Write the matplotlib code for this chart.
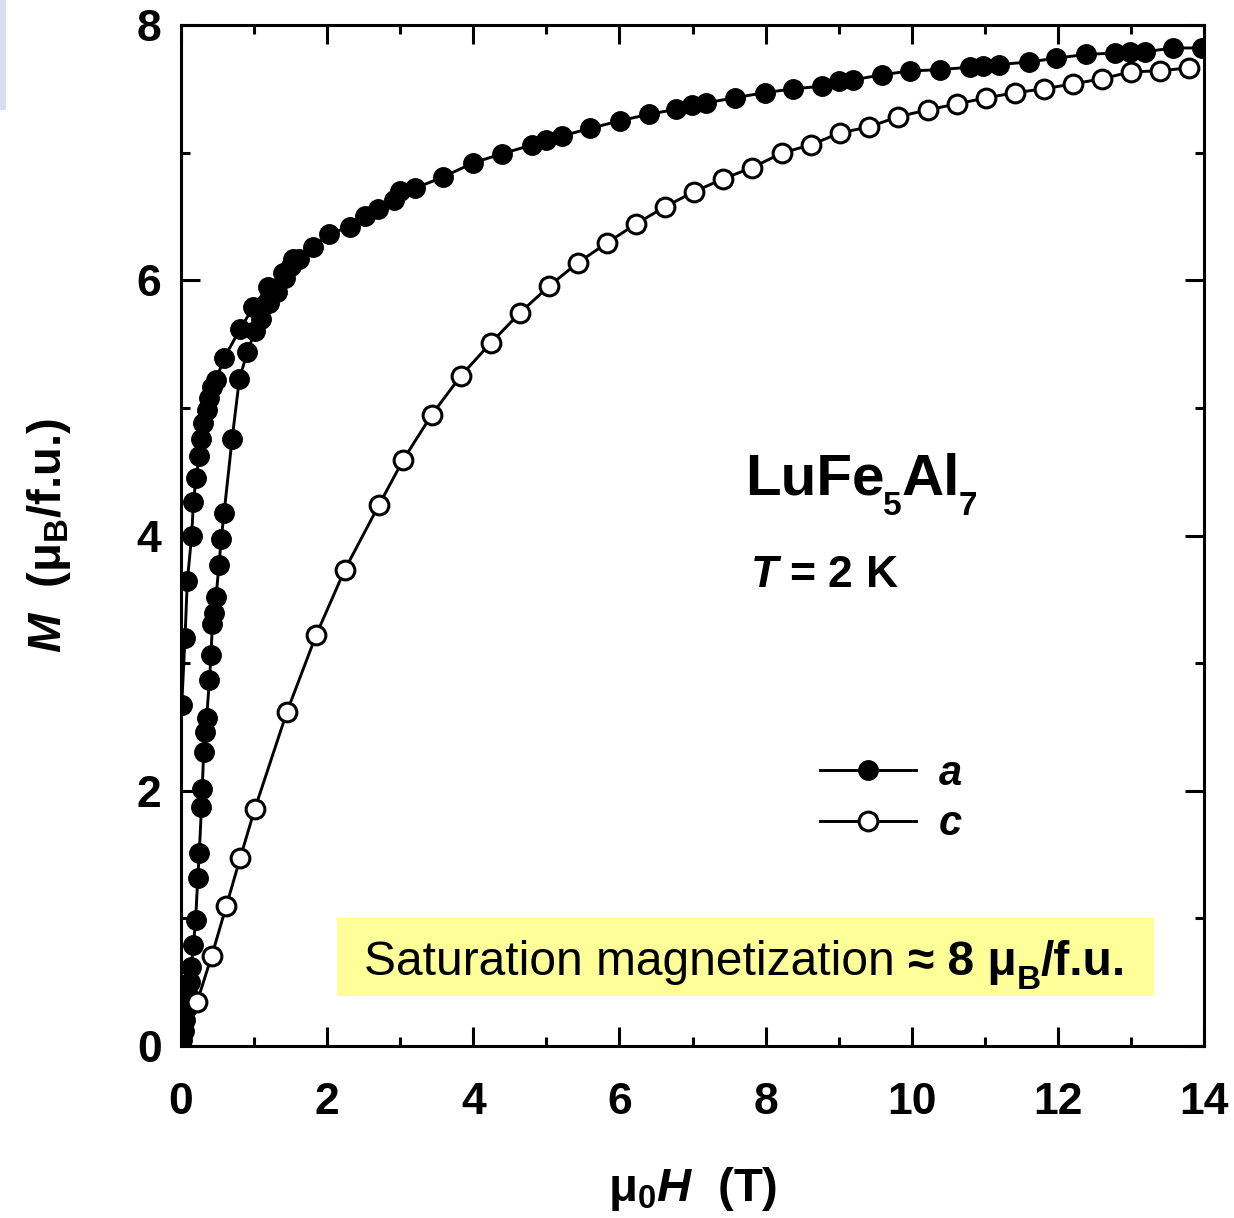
import matplotlib
matplotlib.use("Agg")
import matplotlib.pyplot as plt
from matplotlib.patches import Rectangle

# ---------------- data ----------------
# H || a : virgin (initial) magnetization curve + high-field sweep
a_up_H = [0.00, 0.02, 0.04, 0.06, 0.08, 0.10, 0.12, 0.14, 0.17, 0.20, 0.23, 0.25,
          0.28, 0.29, 0.31, 0.33, 0.35, 0.39, 0.41, 0.43, 0.45, 0.48, 0.52, 0.55,
          0.59, 0.70, 0.80, 0.91, 1.01, 1.10, 1.20, 1.31, 1.42, 1.51, 1.61, 1.81,
          2.02, 2.31, 2.52, 2.70, 2.91, 3.00, 3.20, 3.59, 4.00, 4.39, 4.80, 5.00,
          5.21, 5.60, 6.01, 6.40, 6.78, 6.99, 7.19, 7.58, 7.99, 8.38, 8.77, 9.00,
          9.20, 9.59, 9.98, 10.39, 10.80, 10.98, 11.19, 11.60, 11.98, 12.39, 12.78,
          12.99, 13.19, 13.58, 13.97]
a_up_M = [0.00, 0.05, 0.12, 0.20, 0.30, 0.40, 0.50, 0.62, 0.79, 0.99, 1.32, 1.51,
          1.87, 2.01, 2.30, 2.46, 2.57, 2.87, 3.06, 3.31, 3.39, 3.52, 3.77, 3.97,
          4.18, 4.76, 5.23, 5.44, 5.60, 5.70, 5.82, 5.91, 6.02, 6.11, 6.17, 6.26,
          6.36, 6.42, 6.50, 6.56, 6.63, 6.70, 6.72, 6.81, 6.92, 6.99, 7.06, 7.10,
          7.13, 7.19, 7.25, 7.30, 7.34, 7.37, 7.39, 7.43, 7.47, 7.50, 7.52, 7.56,
          7.57, 7.61, 7.64, 7.65, 7.67, 7.68, 7.69, 7.71, 7.74, 7.77, 7.78,
          7.79, 7.79, 7.82, 7.82]
# H || a : field-decreasing branch back to zero
a_down_H = [1.53, 1.40, 1.19, 0.99, 0.81, 0.59, 0.48, 0.43, 0.39, 0.35, 0.305,
            0.28, 0.25, 0.205, 0.17, 0.146, 0.086, 0.055, 0.01]
a_down_M = [6.17, 6.06, 5.95, 5.79, 5.62, 5.39, 5.22, 5.16, 5.08, 4.98, 4.88,
            4.76, 4.62, 4.45, 4.26, 4.00, 3.64, 3.20, 2.67]

# H || c
c_H = [0.00, 0.22, 0.42, 0.62, 0.81, 1.01, 1.45, 1.85, 2.24, 2.71, 3.04, 3.43,
       3.83, 4.24, 4.64, 5.04, 5.43, 5.83, 6.23, 6.62, 7.02, 7.42, 7.81, 8.23,
       8.62, 9.02, 9.42, 9.81, 10.22, 10.62, 11.02, 11.41, 11.81, 12.21, 12.60,
       13.00, 13.40, 13.80]
c_M = [0.00, 0.345, 0.705, 1.097, 1.473, 1.857, 2.618, 3.221, 3.730, 4.240,
       4.592, 4.945, 5.251, 5.509, 5.745, 5.956, 6.136, 6.293, 6.442, 6.575,
       6.693, 6.795, 6.881, 6.998, 7.061, 7.155, 7.202, 7.281, 7.335, 7.382,
       7.429, 7.469, 7.500, 7.539, 7.578, 7.633, 7.641, 7.665]

x_ticks = [0, 2, 4, 6, 8, 10, 12, 14]
y_ticks = [0, 2, 4, 6, 8]
series_labels = ["a", "c"]

# ---------------- style ----------------
plt.rcParams["font.family"] = ["Liberation Sans", "DejaVu Sans"]
plt.rcParams["font.weight"] = "bold"
plt.rcParams["mathtext.fontset"] = "custom"
plt.rcParams["mathtext.rm"] = "Liberation Sans:bold"
plt.rcParams["mathtext.it"] = "Liberation Sans:bold:italic"
plt.rcParams["mathtext.bf"] = "Liberation Sans:bold"

fig = plt.figure(figsize=(12.34, 12.18), dpi=100)
ax = fig.add_axes([181 / 1234, 1 - 1046 / 1218, (1204 - 181) / 1234, (1046 - 25) / 1218])

# faint lavender strip at the left edge of the figure
fig.patches.append(Rectangle((0, 1 - 110 / 1218), 6 / 1234, 110 / 1218,
                             transform=fig.transFigure, facecolor="#dcdcf0",
                             edgecolor="none"))

lw = 2.1
ax.plot(a_up_H, a_up_M, "-o", color="black", lw=lw, ms=14, mfc="black",
        mec="black", label=series_labels[0], zorder=3)
ax.plot(a_down_H, a_down_M, "-o", color="black", lw=lw, ms=14, mfc="black",
        mec="black", zorder=3)
ax.plot(c_H, c_M, "-o", color="black", lw=lw, ms=13.5, mfc="white",
        mec="black", mew=2.2, markevery=slice(1, None), zorder=4)
c_proxy, = ax.plot([], [], "-o", color="black", lw=lw, ms=13.5, mfc="white",
                   mec="black", mew=2.2, label=series_labels[1])

ax.set_xlim(0, 14)
ax.set_ylim(0, 8)
ax.set_xticks(x_ticks)
ax.set_yticks(y_ticks)
ax.set_xticks([1, 3, 5, 7, 9, 11, 13], minor=True)
ax.set_yticks([1, 3, 5, 7], minor=True)
ax.tick_params(which="both", direction="in", top=True, right=True, width=2.2,
               labelsize=32)
ax.tick_params(which="major", length=14)
ax.tick_params(which="minor", length=6.5)
ax.tick_params(axis="x", which="major", pad=26)
ax.tick_params(axis="y", which="major", pad=14)
for lab in ax.get_xticklabels() + ax.get_yticklabels():
    lab.set_fontweight("bold")
for s in ax.spines.values():
    s.set_linewidth(2.2)

ax.set_xlabel(r"$\mathrm{\mu}_{\mathrm{0}}\mathit{H}$  (T)", fontsize=34,
              fontweight="bold", labelpad=30)
ax.set_ylabel(r"$\mathit{M}$  ($\mathrm{\mu}_{\mathrm{B}}$/f.u.)", fontsize=34,
              fontweight="bold", labelpad=46)

# compound formula with large, low subscripts
t1 = ax.text(7.72, 4.32, "LuFe", fontsize=42, fontweight="bold",
             ha="left", va="baseline")
t2 = ax.annotate("5", xy=(1, 0), xycoords=t1, xytext=(-1, -11),
                 textcoords="offset points", fontsize=24, fontweight="bold",
                 ha="left", va="bottom")
t3 = ax.annotate("Al", xy=(1, 0), xycoords=t2, xytext=(0, 11),
                 textcoords="offset points", fontsize=42, fontweight="bold",
                 ha="left", va="bottom")
t4 = ax.annotate("7", xy=(1, 0), xycoords=t3, xytext=(-1, -11),
                 textcoords="offset points", fontsize=24, fontweight="bold",
                 ha="left", va="bottom")

ax.text(7.79, 3.60, r"$\mathit{T}$ = 2 K", fontsize=32, fontweight="bold",
        ha="left", va="baseline")

# highlighted saturation note
ax.add_patch(Rectangle((2.13, 0.39), 11.19, 0.61, facecolor="#ffff99",
                       edgecolor="none", zorder=1))
s1 = ax.text(2.50, 0.56, "Saturation magnetization ", fontsize=34.5,
             fontweight="normal", ha="left", va="baseline", zorder=2)
s2 = ax.annotate("\u2248 8 \u03bc", xy=(1, 0), xycoords=s1, xytext=(0, 0),
                 textcoords="offset points", fontsize=34.5, fontweight="bold",
                 ha="left", va="bottom", zorder=2)
s3 = ax.annotate("B", xy=(1, 0), xycoords=s2, xytext=(0, -8),
                 textcoords="offset points", fontsize=24, fontweight="bold",
                 ha="left", va="bottom", zorder=2)
s4 = ax.annotate("/f.u.", xy=(1, 0), xycoords=s3, xytext=(0, 8),
                 textcoords="offset points", fontsize=34.5, fontweight="bold",
                 ha="left", va="bottom", zorder=2)

leg = ax.legend(handles=[ax.lines[0], c_proxy], labels=series_labels,
                loc="center left", bbox_to_anchor=(0.625, 0.242), frameon=False,
                handlelength=2.3, handletextpad=0.55, labelspacing=0.25,
                borderpad=0, borderaxespad=0,
                prop={"size": 30, "weight": "bold", "style": "italic"})

fig.savefig("out.png", dpi=100)
